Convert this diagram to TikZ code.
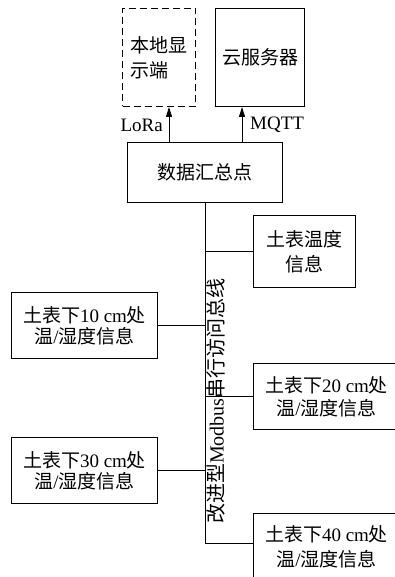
\documentclass[tikz,border=0pt]{standalone}
\usepackage{fontspec}
\setmainfont{Liberation Serif}
\newfontfamily\cjk{Noto Sans CJK SC}
\usetikzlibrary{arrows.meta}
\tikzset{
  box/.style={draw, line width=1pt, inner sep=0pt, align=center, anchor=north west},
  fs/.style={font=\fontsize{19}{#1}\selectfont},
  arr/.style={line width=1pt, -{Triangle[length=10pt,width=6pt]}},
  wire/.style={line width=1pt},
}
\begin{document}
\begin{tikzpicture}[x=1pt,y=-1pt]
\path[use as bounding box] (0,0) rectangle (395,577);
\clip (0,0) rectangle (395,577);
\node[box, dashed, dash pattern=on 7pt off 4pt, align=left, minimum width=73pt, minimum height=98pt, fs=25] (local) at (122,8) {\cjk 本地显\\\cjk 示端};
\node[box, minimum width=89pt, minimum height=98pt, fs=23] (cloud) at (215,8) {\cjk 云服务器};
\node[box, minimum width=155pt, minimum height=60pt, fs=23] (hub) at (127,142) {\cjk 数据汇总点};
\node[box, minimum width=102pt, minimum height=72pt, fs=25] (t0) at (253,215) {\cjk 土表温度\\\cjk 信息};
\node[box, minimum width=146pt, minimum height=66pt, fs=21] (t10) at (11,292) {{\cjk 土表下}10 cm{\cjk 处}\\{\cjk 温}/{\cjk 湿度信息}};
\node[box, minimum width=146pt, minimum height=66pt, fs=23] (t20) at (253,363) {{\cjk 土表下}20 cm{\cjk 处}\\{\cjk 温}/{\cjk 湿度信息}};
\node[box, minimum width=146pt, minimum height=66pt, fs=21] (t30) at (11,437) {{\cjk 土表下}30 cm{\cjk 处}\\{\cjk 温}/{\cjk 湿度信息}};
\node[box, minimum width=146pt, minimum height=66pt, fs=25] (t40) at (253,513) {{\cjk 土表下}40 cm{\cjk 处}\\{\cjk 温}/{\cjk 湿度信息}};
\coordinate (a1) at (169,142);
\coordinate (a2) at (242,142);
\draw[arr] (a1) -- (a1 |- local.south);
\draw[arr] (a2) -- (a2 |- cloud.south);
\node[anchor=east, inner sep=0pt, font=\fontsize{19}{23}\selectfont] (lora) at (163,125) {LoRa};
\node[anchor=west, inner sep=0pt, font=\fontsize{19}{23}\selectfont] (mqtt) at (250,125) {MQTT};
\coordinate (bb) at (205,543);
\draw[wire] (hub.south -| bb) -- (bb) -- (bb -| t40.west);
\draw[wire] (t0.west) -- (t0.west -| bb);
\draw[wire] (t10.east) -- (t10.east -| bb);
\draw[wire] (t20.west) -- (t20.west -| bb);
\draw[wire] (t30.east) -- (t30.east -| bb);
\node[rotate=90, inner sep=0pt, font=\fontsize{20}{24}\selectfont] (buslabel) at (216,401) {{\cjk 改进型}Modbus{\cjk 串行访问总线}};
\end{tikzpicture}
\end{document}
